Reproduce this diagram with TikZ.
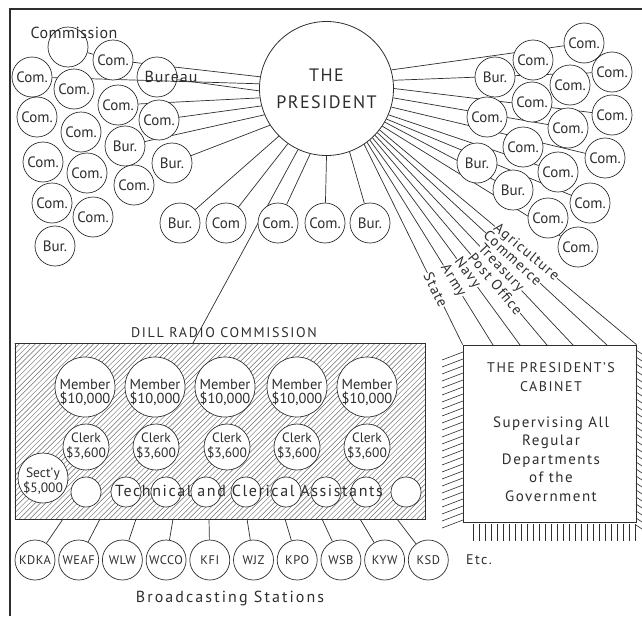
\documentclass[tikz,border=0pt]{standalone}
\usepackage{fontspec}
\setmainfont{PT Sans}
\usetikzlibrary{calc}
\pgfdeclarelayer{bg}
\pgfsetlayers{bg,main}
\definecolor{ink}{HTML}{2E2E2E}
\definecolor{hatchc}{HTML}{6A6A6A}
\tikzset{
  frame/.style={draw=ink, line width=1.3pt},
  conn/.style={draw=ink, line width=0.7pt},
  org/.style={circle, draw=ink, fill=white, line width=0.7pt, inner sep=0pt, minimum size=40pt, text=ink, font=\fontsize{15}{15}\selectfont},
  presnode/.style={circle, draw=ink, fill=white, line width=0.8pt, inner sep=0pt, minimum size=134pt, align=center, text=ink, font={\fontsize{18}{18}\selectfont\addfontfeatures{LetterSpace=8}}},
  mem/.style={circle, draw=ink, fill=white, line width=0.7pt, inner sep=0pt, minimum size=60pt},
  memtext/.style={align=center, inner sep=0pt, text=ink, font=\fontsize{14.5}{14}\selectfont},
  clerk/.style={circle, draw=ink, fill=white, line width=0.7pt, inner sep=0pt, minimum size=46pt},
  clerktext/.style={align=center, inner sep=0pt, text=ink, font=\fontsize{13.5}{14.5}\selectfont},
  sect/.style={circle, draw=ink, fill=white, line width=0.7pt, inner sep=0pt, minimum size=50pt},
  asst/.style={circle, draw=ink, fill=white, line width=0.7pt, inner sep=0pt, minimum size=30pt},
  stn/.style={circle, draw=ink, fill=white, line width=0.7pt, inner sep=0pt, minimum size=40pt, text=ink, font={\fontsize{12.5}{12.5}\selectfont\addfontfeatures{LetterSpace=4}}},
  plain/.style={inner sep=0pt, text=ink},
  dept/.style={sloped, fill=white, inner sep=0.4pt, text=ink, font={\fontsize{14.5}{14.5}\selectfont\addfontfeatures{LetterSpace=8}}},
  hatchline/.style={draw=hatchc, line width=0.45pt},
  cabhatch/.style={draw=ink, line width=0.6pt},
  boxnode/.style={draw=ink, line width=0.8pt, inner sep=0pt},
}
\begin{document}
\begin{tikzpicture}[x=1pt,y=-1pt]
\useasboundingbox (0,0) rectangle (642,616);
% frame
\draw[frame] (10,616) -- (10,9) -- (642,9);

% president
\node[presnode] (pres) at (326.5,88.5) {THE\\[9pt]PRESIDENT};

% left cluster
\node[org] (L1) at (68,47) {};
\foreach \n/\x/\y/\lab in {L2/113/60/Com., L3/32/77/Com., L5/74/89/Com., L6/118/105/Com., L7/159/120/Com., L8/37/117/Com., L9/81/132/Com., L10/125/146/Bur., L11/43/162/Com., L12/172/163/Bur., L13/87/173/Com., L14/134/185/Com., L15/52/203/Com., L16/93/217/Com., L17/55/246/Bur.}
  \node[org] (\n) at (\x,\y) {\lab};
\node[org] (L4) at (157,77) {};
\node[plain, font={\fontsize{16}{16}\selectfont\addfontfeatures{LetterSpace=3}}] (commission) at (74,33) {Commission};

% bottom row
\foreach \n/\x/\lab in {B1/180/Bur., B2/226/Com, B3/278/Com., B4/325/Com., B5/370/Bur.}
  \node[org] (\n) at (\x,223) {\lab};

% right cluster
\foreach \n/\x/\y/\lab in {R1/584/43/Com., R2/533/60/Com., R3/495/77/Bur., R4/612/72/Com., R5/570/85/Com., R6/532/102/Com., R7/487/117/Com., R8/612/115/Com., R9/568/128/Com., R10/523/147/Com., R11/605/158/Com., R12/477/163/Bur., R13/558/172/Com., R14/513/190/Bur., R15/590/203/Com., R16/548/218/Com., R17/578/247/Com.}
  \node[org] (\n) at (\x,\y) {\lab};

% Dill radio commission box
\node[boxnode, minimum width=410pt, minimum height=176pt] (dill) at (220,431) {};
\node[plain, font={\fontsize{14}{14}\selectfont\addfontfeatures{LetterSpace=12}}] (dilllabel) at (224,333) {DILL RADIO COMMISSION};
\coordinate (dilltop) at (193,343);

\foreach \x [count=\i] in {85,155,225,297,367} {
  \node[mem] (m\i) at (\x,387) {};
  \node[memtext] (mt\i) at ([yshift=-5pt]m\i.center) {Member\\\$10,000};
}
\foreach \x [count=\i] in {86,156,227,297,367} {
  \node[clerk] (c\i) at (\x,447) {};
  \node[clerktext] (ct\i) at ([yshift=1pt]c\i.center) {Clerk\\\$3,600};
}
\node[sect] (secty) at (43,478) {};
\node[clerktext, font=\fontsize{13.5}{13}\selectfont] (sectytext) at ([yshift=-3pt]secty.center) {Sect’y\\\$5,000};
\foreach \x [count=\i] in {86,126,...,406}
  \node[asst] (a\i) at (\x,492) {};
\node[plain, font={\fontsize{16}{16}\selectfont\addfontfeatures{LetterSpace=10}}] (assttext) at (249,491) {Technical and Clerical Assistants};

% stations
\foreach \n [count=\i] in {KDKA,WEAF,WLW,WCCO,KFI,WJZ,KPO,WSB,KYW,KSD}
  \node[stn] (s\i) at ({35+43.7*(\i-1)},560) {\n};
\foreach \x [count=\i] in {63,100,136,173,209,247,285,322,360,397}
  \coordinate (t\i) at (\x,519);
\node[plain, font={\fontsize{14}{14}\selectfont\addfontfeatures{LetterSpace=10}}] (etc) at (479,560) {Etc.};
\node[plain, font={\fontsize{16}{16}\selectfont\addfontfeatures{LetterSpace=13}}] (bcast) at (230,598) {Broadcasting Stations};

% cabinet
\node[boxnode, fill=white, minimum width=173pt, minimum height=177pt] (cab) at (549.5,433.5) {};
\node[plain, align=center, font={\fontsize{14}{19}\selectfont\addfontfeatures{LetterSpace=11}}] (cabt1) at (551,377.5) {THE PRESIDENT’S\\CABINET};
\node[plain, align=center, font={\fontsize{15}{18.5}\selectfont\addfontfeatures{LetterSpace=10}}] (cabt2) at (551,459) {Supervising All\\Regular\\Departments\\of the\\Government};
\coordinate (dArmy) at (493,345);
\coordinate (dNavy) at (520,345);
\coordinate (dPost) at (547,345);
\coordinate (dTreas) at (573,345);
\coordinate (dComm) at (607,345);

% cabinet shading strokes
\foreach \y in {352,359,...,526}
  \draw[cabhatch] (442,{\y+8}) -- (463,\y);
\foreach \y in {350,357,...,528}
  \draw[cabhatch] (636,\y) -- (645,{\y+6});
\foreach \x in {473,479,...,635}
  \draw[cabhatch] (\x,524) -- (\x,541);

% underline of Bureau: the connector seen across its circle
\begin{scope}
  \clip (L4.center) circle [radius=19.4pt];
  \draw[conn] (pres.176) -- (L3);
\end{scope}
\node[plain, font={\fontsize{16}{16}\selectfont\addfontfeatures{LetterSpace=6}}] (bureau) at (171,77) {Bureau};

\begin{pgfonlayer}{bg}
  % hatch of the commission box
  \begin{scope}
    \clip (dill.south west) rectangle (dill.north east);
    \foreach \k in {0,...,112}
      \draw[hatchline] ({-161+\k*5.3},519) -- ++(176,-176);
  \end{scope}
  % left connectors
  \draw[conn] (L1) -- (L2);
  \draw[conn] (pres.170) -- (L2);
  \draw[conn] (pres.176) -- (L3);
  \draw[conn] (pres.182) -- (L4);
  \draw[conn] (pres.188) -- (L6);
  \draw[conn] (pres.195) -- (L7);
  \draw[conn] (pres.203) -- (L10);
  \draw[conn] (pres.213) -- (L12);
  \draw[conn] (pres.225) -- (B1);
  \draw[conn] (pres.235) -- (B2);
  \draw[conn] (pres.245) -- (dilltop);
  \draw[conn] (pres.256) -- (B3);
  \draw[conn] (pres.270) -- (B4);
  \draw[conn] (pres.290) -- (B5);
  % right connectors
  \draw[conn] (pres.16) -- (R1);
  \draw[conn] (pres.7) -- (R4);
  \draw[conn] (pres.0) -- (R8);
  \draw[conn] (pres.-8) -- (R9);
  \draw[conn] (pres.-16) -- (R11);
  \draw[conn] (pres.-23) -- (R13);
  \draw[conn] (pres.-27) -- (R15);
  \draw[conn] (pres.-30) -- (R14);
  \draw[conn] (pres.-34) -- (R17);
  % departments
  \draw[conn] (pres.-38) -- node[dept, pos=0.57] {Agriculture} (cab.north east);
  \draw[conn] (pres.-41) -- node[dept, pos=0.59] {Commerce} (dComm);
  \draw[conn] (pres.-44) -- node[dept, pos=0.635] {Treasury} (dTreas);
  \draw[conn] (pres.-47) -- node[dept, pos=0.705] {Post Office} (dPost);
  \draw[conn] (pres.-50) -- node[dept, pos=0.648] {Navy} (dNavy);
  \draw[conn] (pres.-53) -- node[dept, pos=0.683] {Army} (dArmy);
  \draw[conn] (pres.-56) -- node[dept, pos=0.727] {State} (cab.north west);
  % station connectors
  \foreach \i in {1,...,10}
    \draw[conn] (t\i) -- (s\i);
\end{pgfonlayer}
\end{tikzpicture}
\end{document}
